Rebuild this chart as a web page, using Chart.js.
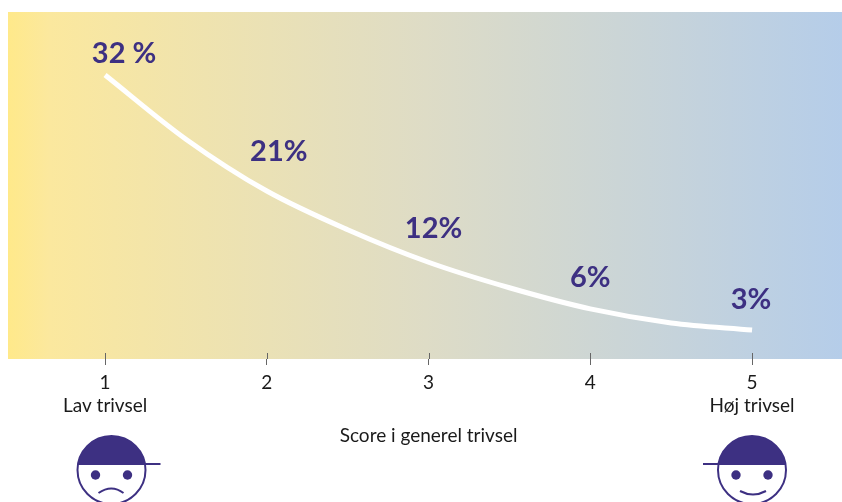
<!DOCTYPE html>
<html lang="da">
<head>
    <meta charset="UTF-8">
    <title>Score i generel trivsel</title>
    <script src="https://cdn.jsdelivr.net/npm/chart.js"></script>
    <style>
        html, body { margin: 0; padding: 0; background: #fff; overflow: hidden; }
        #wrap { width: 842px; height: 502px; }
    </style>
</head>
<body>
    <div id="wrap"><canvas id="chart" width="842" height="502"></canvas></div>

    <script>
        const scores = [1, 2, 3, 4, 5];
        // the white curve (no value axis is printed)
        const curveScores = [1, 1.5, 2, 2.5, 3, 3.5, 4, 4.5, 5];
        const curveValues = [32, 24.7, 18.8, 14.4, 10.7, 7.8, 5.4, 3.8, 3];
        const shareLabels = ['32 %', '21%', '12%', '6%', '3%'];
        const lowHighLabels = ['Lav trivsel', '', '', '', 'Høj trivsel'];
        const axisTitle = 'Score i generel trivsel';

        const purple = '#3d3082';
        const fontName = 'Lato, sans-serif';
        // label centre relative to the curve at that score
        const labelOffsets = [[19, -21], [12, -39], [5, -34], [0, -31], [-1, -30]];

        const decorations = {
            id: 'decorations',
            beforeDraw(chart) {
                const { ctx, chartArea: a } = chart;
                const g = ctx.createLinearGradient(a.left, 0, a.right, 0);
                g.addColorStop(0, '#ffe98a');
                g.addColorStop(0.05, '#fbe89e');
                g.addColorStop(0.5, '#dedcc6');
                g.addColorStop(1, '#b5cde9');
                ctx.fillStyle = g;
                ctx.fillRect(a.left, a.top, a.right - a.left, a.bottom - a.top);
            },
            afterDraw(chart) {
                const { ctx, chartArea: a, scales: { x } } = chart;
                ctx.save();

                // upper half of the ticks sits inside the plot
                ctx.strokeStyle = '#666';
                ctx.lineWidth = 1;
                scores.forEach(s => {
                    const px = Math.round(x.getPixelForValue(s)) + 0.5;
                    ctx.beginPath();
                    ctx.moveTo(px, a.bottom - 6);
                    ctx.lineTo(px, a.bottom);
                    ctx.stroke();
                });

                // share labels
                ctx.fillStyle = purple;
                ctx.font = 'bold 29px ' + fontName;
                ctx.textAlign = 'center';
                ctx.textBaseline = 'middle';
                const points = chart.getDatasetMeta(0).data;
                scores.forEach((s, i) => {
                    const pt = points[curveScores.indexOf(s)];
                    ctx.fillText(shareLabels[i], pt.x + labelOffsets[i][0], pt.y + labelOffsets[i][1]);
                });

                // axis title
                ctx.fillStyle = '#1a1a1a';
                ctx.font = '19px ' + fontName;
                ctx.fillText(axisTitle, x.getPixelForValue(3), 436);

                drawFace(ctx, 111.5, false);
                drawFace(ctx, 752, true);
                ctx.restore();
            }
        };

        function drawFace(ctx, cx, happy) {
            const cy = 470, r = 34, capY = 464;
            const dx = Math.sqrt(r * r - (capY - cy) * (capY - cy));
            ctx.strokeStyle = purple;
            ctx.fillStyle = purple;
            ctx.lineWidth = 2;

            ctx.beginPath();
            ctx.arc(cx, cy, r, 0, Math.PI * 2);
            ctx.stroke();

            // cap
            const start = Math.atan2(capY - cy, -dx);
            const end = Math.atan2(capY - cy, dx);
            ctx.beginPath();
            ctx.arc(cx, cy, r, start, end);
            ctx.closePath();
            ctx.fill();

            // brim
            ctx.beginPath();
            if (happy) {
                ctx.moveTo(cx - 49, capY);
                ctx.lineTo(cx + dx, capY);
            } else {
                ctx.moveTo(cx - dx, capY);
                ctx.lineTo(cx + 49, capY);
            }
            ctx.stroke();

            // eyes
            [-16, 16].forEach(d => {
                ctx.beginPath();
                ctx.arc(cx + d, 475, 4.7, 0, Math.PI * 2);
                ctx.fill();
            });

            // mouth
            ctx.beginPath();
            if (happy) {
                ctx.moveTo(cx - 12, 491);
                ctx.quadraticCurveTo(cx + 1, 498, cx + 14, 491);
            } else {
                ctx.moveTo(cx - 13, 493);
                ctx.quadraticCurveTo(cx, 484, cx + 12, 493);
            }
            ctx.stroke();
        }

        new Chart(document.getElementById('chart').getContext('2d'), {
            type: 'scatter',
            data: {
                datasets: [{
                    data: curveScores.map((s, i) => ({ x: s, y: curveValues[i] })),
                    showLine: true,
                    borderColor: '#ffffff',
                    borderWidth: 5,
                    cubicInterpolationMode: 'monotone',
                    pointRadius: 0
                }]
            },
            options: {
                responsive: false,
                animation: false,
                layout: { padding: { left: 8, top: 12, right: 0, bottom: 0 } },
                plugins: { legend: { display: false }, tooltip: { enabled: false } },
                scales: {
                    x: {
                        type: 'linear',
                        min: 0.4,
                        max: 5.556,
                        afterBuildTicks: axis => { axis.ticks = scores.map(v => ({ value: v })); },
                        afterFit: axis => { axis.height = 143; },
                        border: { display: false },
                        grid: { drawOnChartArea: false, tickLength: 6, tickColor: '#666', drawTicks: true },
                        ticks: {
                            autoSkip: false,
                            maxRotation: 0,
                            padding: 6,
                            color: '#1a1a1a',
                            font: { family: fontName, size: 19, lineHeight: 1.22 },
                            callback: (v, i) => lowHighLabels[i] ? [String(v), lowHighLabels[i]] : String(v)
                        }
                    },
                    y: {
                        display: false,
                        min: -0.3,
                        max: 39.16
                    }
                }
            },
            plugins: [decorations]
        });
    </script>
</body>
</html>
